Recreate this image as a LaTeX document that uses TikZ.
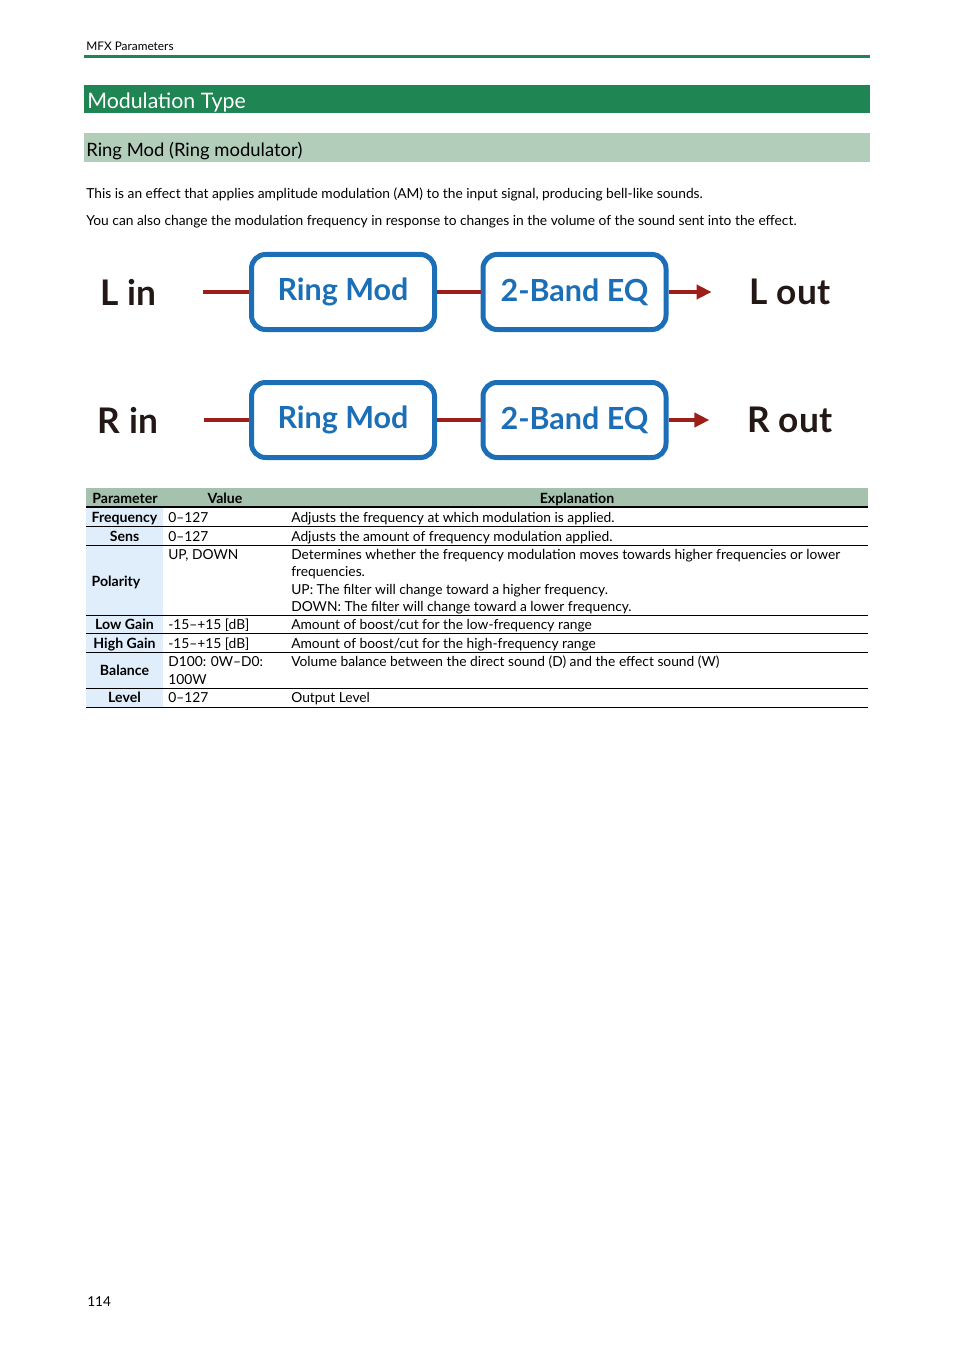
\documentclass[tikz,border=0pt]{standalone}
\usepackage{fontspec}
\setmainfont{Lato}
\usetikzlibrary{arrows.meta}
\definecolor{dkgreen}{RGB}{30,133,83}
\definecolor{ltgreen}{RGB}{179,205,187}
\definecolor{hdgreen}{RGB}{164,194,173}
\definecolor{ltblue}{RGB}{224,237,250}
\definecolor{fxblue}{RGB}{28,111,183}
\definecolor{sigred}{RGB}{158,31,26}
\definecolor{ink}{RGB}{35,24,21}
\def\px{0.6237pt}
\newcommand\tabfont{\fontsize{8.6}{10}\selectfont}
\newcommand\tabbold{\fontsize{8.8}{10}\selectfont\bfseries}
\tikzset{
  fxbox/.style={draw=fxblue, line width=5*\px, rounded corners=14*\px,
    minimum width=183*\px, minimum height=75*\px, text=fxblue,
    font=\fontsize{19}{23}\selectfont\bfseries},
  iolabel/.style={inner sep=0pt, text=ink, font=\fontsize{22}{26}\selectfont\bfseries},
  sig/.style={draw=sigred, line width=4*\px},
  cell/.style={inner sep=0pt, anchor=base west, font=\tabfont},
  pcell/.style={inner sep=0pt, anchor=base, font=\tabbold},
  rowline/.style={line width=1*\px},
}
\begin{document}
\begin{tikzpicture}[x=\px, y=-\px]
  \useasboundingbox (0,0) rectangle (954,1350);
  % page head
  \node[cell, font=\fontsize{7.4}{9}\selectfont] (head) at (86,51) {MFX Parameters};
  \fill[dkgreen] (84,55.5) rectangle (870,58.5);
  \fill[dkgreen] (84,85) rectangle (870,113);
  \node[cell, text=white, font=\fontsize{13.3}{16}\selectfont] (title) at (87,108.5) {Modulation Type};
  \fill[ltgreen] (84,133) rectangle (870,162);
  \node[cell, font=\fontsize{11.5}{14}\selectfont] (subtitle) at (86,157) {Ring Mod (Ring modulator)};
  \node[cell] (intro1) at (86,199) {This is an effect that applies amplitude modulation (AM) to the input signal, producing bell-like sounds.};
  \node[cell] (intro2) at (86,226) {You can also change the modulation frequency in response to changes in the volume of the sound sent into the effect.};
  % block diagram
  \node[iolabel] (lin) at (128,292) {L in};
  \node[fxbox] (rm1) at (343,292) {Ring Mod};
  \node[fxbox] (eq1) at (574.5,292) {2-Band EQ};
  \node[iolabel] (lout) at (790,292) {L out};
  \node[iolabel] (rin) at (128,420) {R in};
  \node[fxbox] (rm2) at (343,420) {Ring Mod};
  \node[fxbox] (eq2) at (574.5,420) {2-Band EQ};
  \node[iolabel] (rout) at (790,420) {R out};
  \begin{scope}[sig]
    \draw[shorten <=47*\px] (lin) -- (rm1);
    \draw (rm1) -- (eq1);
    \draw[-{Triangle[length=15*\px, width=14*\px]}, shorten >=38*\px] (eq1) -- (lout);
    \draw[shorten <=46*\px] (rin) -- (rm2);
    \draw (rm2) -- (eq2);
    \draw[-{Triangle[length=15*\px, width=14*\px]}, shorten >=38*\px] (eq2) -- (rout);
  \end{scope}
  % parameter table
  \fill[hdgreen] (86,488) rectangle (868,506.5);
  \fill[ltblue] (86,507) rectangle (163,707);
  \node[pcell] (hpar) at (125,503) {Parameter};
  \node[pcell] (hval) at (225,503) {Value};
  \node[pcell] (hexp) at (577,503) {Explanation};
  \draw[line width=1.5*\px] (86,507) -- (868,507);
  \foreach \y in {526,545,615,633,652,688,707}
    \draw[rowline] (86,\y) -- (868,\y);
  \node[pcell] (pfreq) at (124.5,522) {Frequency};
  \node[cell] (vfreq) at (168,522) {0–127};
  \node[cell] (efreq) at (291,522) {Adjusts the frequency at which modulation is applied.};
  \node[pcell] (psens) at (124.5,541) {Sens};
  \node[cell] (vsens) at (168,541) {0–127};
  \node[cell] (esens) at (291,541) {Adjusts the amount of frequency modulation applied.};
  \node[pcell] (ppol) at (116,586) {Polarity};
  \node[cell] (vpol) at (168,559) {UP, DOWN};
  \node[cell] (epol1) at (291,559) {Determines whether the frequency modulation moves towards higher frequencies or lower};
  \node[cell] (epol2) at (291,576) {frequencies.};
  \node[cell] (epol3) at (291,594) {UP: The filter will change toward a higher frequency.};
  \node[cell] (epol4) at (291,611) {DOWN: The filter will change toward a lower frequency.};
  \node[pcell] (plow) at (124.5,629) {Low Gain};
  \node[cell] (vlow) at (168,629) {-15–+15 [dB]};
  \node[cell] (elow) at (291,629) {Amount of boost/cut for the low-frequency range};
  \node[pcell] (phigh) at (124.5,648) {High Gain};
  \node[cell] (vhigh) at (168,648) {-15–+15 [dB]};
  \node[cell] (ehigh) at (291,648) {Amount of boost/cut for the high-frequency range};
  \node[pcell] (pbal) at (124.5,675) {Balance};
  \node[cell] (vbal1) at (168,666) {D100: 0W–D0:};
  \node[cell] (vbal2) at (168,684) {100W};
  \node[cell] (ebal) at (291,666) {Volume balance between the direct sound (D) and the effect sound (W)};
  \node[pcell] (plev) at (124.5,702) {Level};
  \node[cell] (vlev) at (168,702) {0–127};
  \node[cell] (elev) at (291,702) {Output Level};
  % page number
  \node[cell, font=\fontsize{8.5}{10}\selectfont] (pnum) at (87,1306) {114};
\end{tikzpicture}
\end{document}
